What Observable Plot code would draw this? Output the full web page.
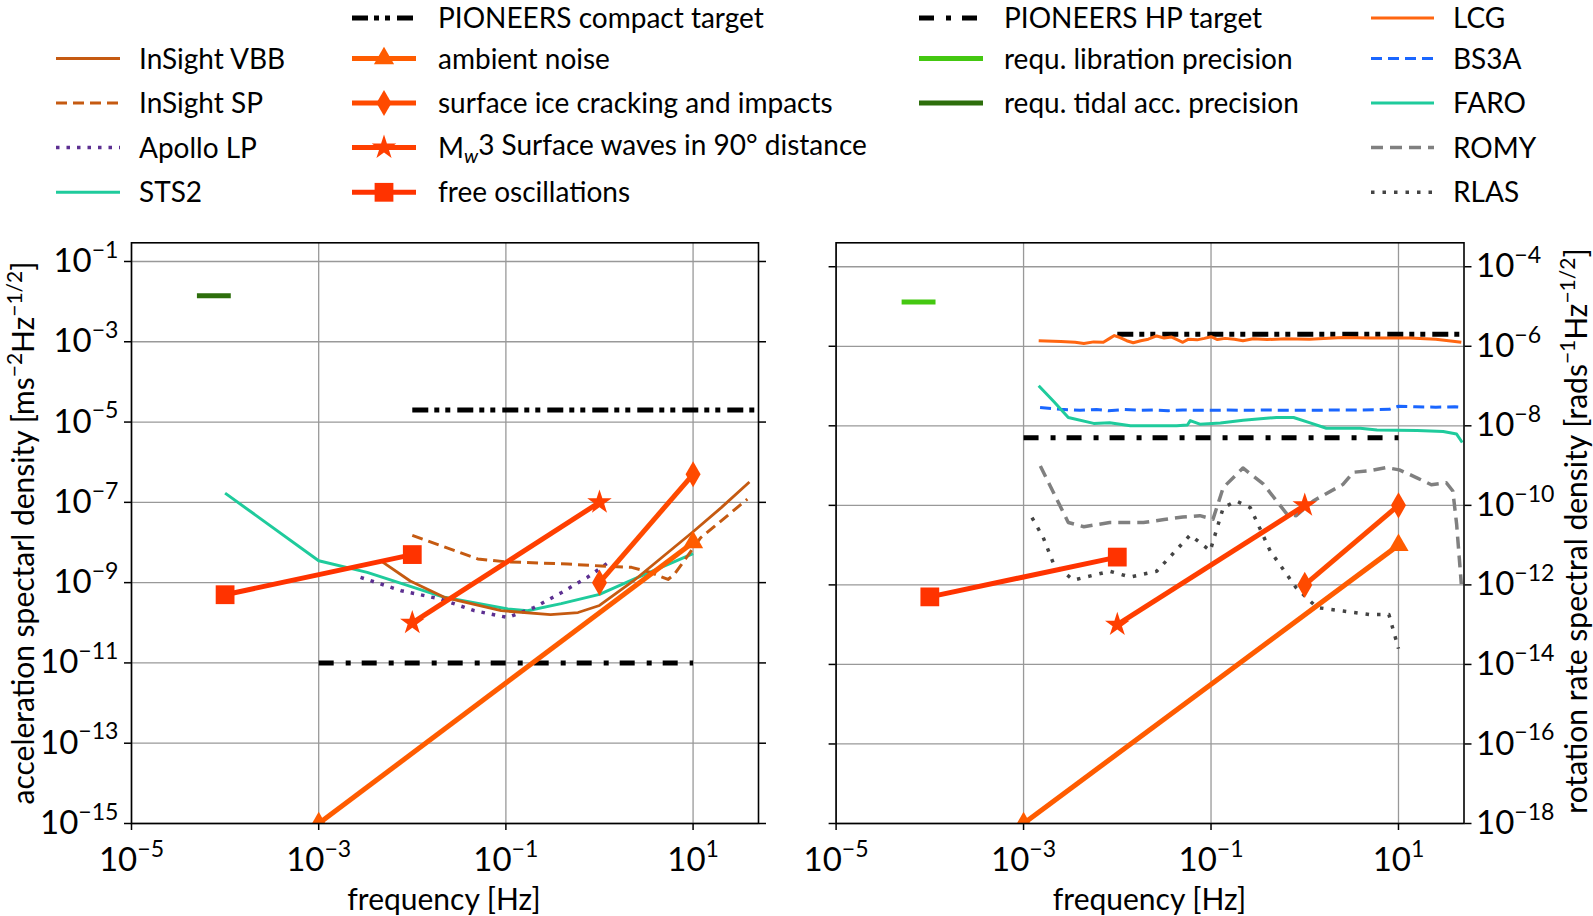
<!DOCTYPE html>
<html><head><meta charset="utf-8">
<script src="https://cdn.jsdelivr.net/npm/d3@7"></script>
<script src="https://cdn.jsdelivr.net/npm/@observablehq/plot@0.6"></script>
<style>
body{margin:0;background:#fff;}
#root{position:relative;width:1593px;height:916px;overflow:hidden;font-family:Lato,"DejaVu Sans",sans-serif;color:#000;}
.lbl{position:absolute;font-size:30px;white-space:nowrap;line-height:1;}
.rot{transform:translate(-50%,-50%) rotate(-90deg);}
.ctr{transform:translate(-50%,-50%);}
.lbl sup{font-size:70%;vertical-align:0;position:relative;top:-0.55em;}
.panel{position:absolute;top:220px;}
</style></head><body><div id="root"></div>
<script>
// ---------- tick values ----------
const xTicks = [1e-5, 1e-3, 1e-1, 1e1];
const yTicksAcc = [1e-15, 1e-13, 1e-11, 1e-9, 1e-7, 1e-5, 1e-3, 1e-1];
const yTicksRot = [1e-18, 1e-16, 1e-14, 1e-12, 1e-10, 1e-8, 1e-6, 1e-4];

// ---------- left panel: acceleration ----------
const vbbF = [4.7e-3, 9.5e-3, 2.2e-2, 8.9e-2, 0.3, 0.59, 1.0, 2.3, 10, 20, 40];
const vbbA = [3.4e-9, 1.1e-9, 4.3e-10, 2.0e-10, 1.6e-10, 1.8e-10, 2.7e-10, 1.1e-9, 1.85e-8, 7.4e-8, 3.2e-7];
const spF = [1e-2, 5e-2, 0.1, 0.46, 1.04, 2.2, 3.5, 5.4, 6.3, 12, 38];
const spA = [1.5e-8, 3.9e-9, 3.3e-9, 2.9e-9, 2.6e-9, 2.4e-9, 1.8e-9, 1.2e-9, 1.6e-9, 1.3e-8, 1.2e-7];
const apolloF = [2.8e-3, 7.6e-3, 2e-2, 4.6e-2, 0.105, 0.2, 0.39, 0.74, 1.3];
const apolloA = [1.35e-9, 6.3e-10, 3.9e-10, 2e-10, 1.35e-10, 2.4e-10, 5.6e-10, 1.35e-9, 3.4e-9];
const sts2F = [1e-4, 1e-3, 3.3e-3, 2.2e-2, 0.105, 0.17, 0.39, 1.0, 2.3, 10];
const sts2A = [1.7e-7, 3.5e-9, 1.8e-9, 4.3e-10, 2.2e-10, 2.0e-10, 3.0e-10, 5.1e-10, 1.2e-9, 5.3e-9];

const compactAccF = [1e-2, 50];   const compactAccV = [2e-5, 2e-5];
const hpAccF = [1e-3, 10];        const hpAccV = [1e-11, 1e-11];
const tidalF = [5e-5, 1.15e-4];   const tidalV = [1.4e-2, 1.4e-2];

const ambientAccF = [1e-3, 10];   const ambientAccV = [1e-15, 1e-8];
const iceAccF = [1, 10];          const iceAccV = [1e-9, 5e-7];
const mw3AccF = [1e-2, 1];        const mw3AccV = [1e-10, 1e-7];
const freeAccF = [1e-4, 1e-2];    const freeAccV = [5e-10, 5e-9];

// ---------- right panel: rotation rate ----------
const lcgF = [1.45e-3, 2.5e-3, 3.55e-3, 4.4e-3, 5.6e-3, 7.1e-3, 8.3e-3, 9.3e-3, 1.07e-2, 1.26e-2, 1.48e-2, 1.78e-2, 2.14e-2, 2.63e-2, 3.16e-2, 3.8e-2, 4.4e-2, 5.0e-2, 5.75e-2, 7.1e-2, 8.5e-2, 0.1, 0.117, 0.141, 0.178, 0.219, 0.282, 0.398, 0.63, 1.12, 2.0, 2.57, 5.0, 13.2, 25, 46.8];
const lcgV = [1.38e-6, 1.32e-6, 1.26e-6, 1.17e-6, 1.29e-6, 1.26e-6, 1.58e-6, 1.86e-6, 1.66e-6, 1.38e-6, 1.23e-6, 1.38e-6, 1.51e-6, 1.82e-6, 1.62e-6, 1.70e-6, 1.45e-6, 1.26e-6, 1.51e-6, 1.45e-6, 1.58e-6, 1.74e-6, 1.48e-6, 1.58e-6, 1.51e-6, 1.38e-6, 1.55e-6, 1.48e-6, 1.55e-6, 1.51e-6, 1.62e-6, 1.66e-6, 1.62e-6, 1.62e-6, 1.51e-6, 1.26e-6];
const bs3aF = [1.5e-3, 2.5e-3, 4e-3, 6e-3, 8e-3, 1.2e-2, 1.8e-2, 2.5e-2, 3.5e-2, 5e-2, 7e-2, 0.1, 0.15, 0.25, 0.4, 0.7, 1.2, 2, 4, 8, 10, 15, 25, 40, 48];
const bs3aV = [2.9e-8, 2.6e-8, 2.45e-8, 2.57e-8, 2.4e-8, 2.57e-8, 2.45e-8, 2.5e-8, 2.4e-8, 2.5e-8, 2.45e-8, 2.45e-8, 2.5e-8, 2.45e-8, 2.5e-8, 2.45e-8, 2.45e-8, 2.5e-8, 2.5e-8, 2.6e-8, 3.1e-8, 3.0e-8, 2.95e-8, 3.0e-8, 2.9e-8];
const faroF = [1.45e-3, 2.1e-3, 3.0e-3, 5.6e-3, 8.3e-3, 1.38e-2, 2.5e-2, 4.3e-2, 5.6e-2, 6.0e-2, 7.6e-2, 0.126, 0.22, 0.5, 0.76, 1.12, 1.7, 3.9, 5.9, 15.8, 30, 41.7, 47.9];
const faroV = [1.02e-7, 4.1e-8, 1.62e-8, 1.15e-8, 1.2e-8, 1.0e-8, 1.0e-8, 1.0e-8, 1.05e-8, 1.35e-8, 1.1e-8, 1.17e-8, 1.38e-8, 1.62e-8, 1.62e-8, 1.2e-8, 8.7e-9, 8.7e-9, 7.8e-9, 7.6e-9, 7.2e-9, 6.2e-9, 3.8e-9];
const romyF = [1.51e-3, 3.0e-3, 4.4e-3, 8.3e-3, 1.9e-2, 3.16e-2, 5.0e-2, 7.6e-2, 0.105, 0.135, 0.219, 0.363, 0.646, 0.81, 1.23, 2.57, 3.3, 4.9, 7.4, 10.2, 15.5, 22.4, 32.4, 38, 41.7, 46.8];
const romyV = [9.8e-10, 3.7e-11, 2.9e-11, 3.7e-11, 3.7e-11, 4.4e-11, 5.1e-11, 5.5e-11, 4.5e-11, 2.8e-10, 8.7e-10, 3.4e-10, 6.0e-11, 5.5e-11, 1.29e-10, 3.4e-10, 6.8e-10, 7.4e-10, 8.9e-10, 7.8e-10, 5.0e-10, 3.3e-10, 3.7e-10, 2.3e-10, 3.4e-11, 1.05e-12];
const rlasF = [1.23e-3, 1.62e-3, 2.1e-3, 3.4e-3, 8.3e-3, 1.38e-2, 2.63e-2, 6.0e-2, 9.8e-2, 0.135, 0.186, 0.263, 0.427, 0.81, 1.35, 2.57, 4.9, 7.9, 10];
const rlasV = [4.9e-11, 1.55e-11, 3.3e-12, 1.32e-12, 2.2e-12, 1.58e-12, 2.2e-12, 1.8e-11, 7.2e-12, 8.7e-11, 1.29e-10, 8.7e-11, 7.2e-12, 8.5e-13, 2.7e-13, 2.2e-13, 1.8e-13, 1.8e-13, 2.5e-14];

const compactRotF = [1e-2, 50];   const compactRotV = [2e-6, 2e-6];
const hpRotF = [1e-3, 10];        const hpRotV = [5e-9, 5e-9];
const librationF = [5e-5, 1.15e-4]; const librationV = [1.3e-5, 1.3e-5];

const ambientRotF = [1e-3, 10];   const ambientRotV = [1e-18, 1e-11];
const iceRotF = [1, 10];          const iceRotV = [1e-12, 1e-10];
const mw3RotF = [1e-2, 1];        const mw3RotV = [1e-13, 1e-10];
const freeRotF = [1e-4, 1e-2];    const freeRotV = [5e-13, 5e-12];

// ---------- styles ----------
const COL = {vbb:"#c55a11", sts:"#1fcb9c", apollo:"#5c2f91", lcg:"#ff6611", bs3a:"#1a66ff",
  romy:"#808080", rlas:"#444444", amb:"#ff5c00", ice:"#ff4a00", mw:"#ff3f00", free:"#ff3300",
  tidal:"#2d6e0c", lib:"#44c811"};
const ST = {
  vbb:{stroke:COL.vbb, strokeWidth:2.8},
  sp:{stroke:COL.vbb, strokeWidth:3, strokeDasharray:"11,6"},
  apollo:{stroke:COL.apollo, strokeWidth:3.5, strokeDasharray:"3.5,7"},
  sts:{stroke:COL.sts, strokeWidth:3},
  compact:{stroke:"#000", strokeWidth:5, strokeDasharray:"16,6,5,6,5,7"},
  hp:{stroke:"#000", strokeWidth:5, strokeDasharray:"15,12,5,11"},
  tidal:{stroke:COL.tidal, strokeWidth:5},
  lib:{stroke:COL.lib, strokeWidth:5},
  lcg:{stroke:COL.lcg, strokeWidth:3},
  bs3a:{stroke:COL.bs3a, strokeWidth:3, strokeDasharray:"11,6"},
  faro:{stroke:COL.sts, strokeWidth:3},
  romy:{stroke:COL.romy, strokeWidth:3.5, strokeDasharray:"12,7"},
  rlas:{stroke:COL.rlas, strokeWidth:3.5, strokeDasharray:"3.5,8"},
  amb:{stroke:COL.amb, strokeWidth:5, sym:"triangle", r:7.5},
  ice:{stroke:COL.ice, strokeWidth:5, sym:"diamond", r:7.9},
  mw:{stroke:COL.mw, strokeWidth:5, sym:"star", r:7.7},
  free:{stroke:COL.free, strokeWidth:5, sym:"square", r:10.6}
};

function series(F, V){ return F.map((f, i) => ({f, v: V[i]})); }
function lineMark(F, V, s){
  return Plot.line(series(F, V), {x:"f", y:"v", stroke:s.stroke, strokeWidth:s.strokeWidth,
    strokeDasharray:s.strokeDasharray, strokeLinecap:"butt", strokeLinejoin:"round", clip:true});
}
function signalMarks(F, V, s){
  return [lineMark(F, V, s),
    Plot.dot(series(F, V), {x:"f", y:"v", symbol:s.sym, r:s.r, fill:s.stroke, stroke:null, clip:true})];
}
const fmtPow = d => "10^" + String(Math.round(Math.log10(d))).replace("-", "\u2212");
const gridStyle = {stroke:"#999", strokeOpacity:1, strokeWidth:1.3};

function supify(svg){
  svg.querySelectorAll("text").forEach(t => {
    const s = t.textContent;
    if (!s.includes("^")) return;
    const [base, exp] = s.split("^");
    while (t.firstChild) t.removeChild(t.firstChild);
    t.appendChild(document.createTextNode(base));
    const sp = document.createElementNS("http://www.w3.org/2000/svg", "tspan");
    sp.setAttribute("font-size", "0.7em");
    sp.setAttribute("dy", "-0.62em");
    sp.textContent = exp;
    t.appendChild(sp);
  });
}

const commonStyle = {fontFamily:"Lato, 'DejaVu Sans', sans-serif", fontSize:"33px", background:"transparent", overflow:"visible", color:"#000"};

const leftPlot = Plot.plot({
  width:800, height:696,
  marginLeft:131, marginRight:42, marginTop:22.3, marginBottom:93,
  x:{type:"log", domain:[1e-5, 50]},
  y:{type:"log", domain:[1e-15, 0.292]},
  style:commonStyle,
  marks:[
    Plot.gridX(xTicks, gridStyle),
    Plot.gridY(yTicksAcc, gridStyle),
    lineMark(compactAccF, compactAccV, ST.compact),
    lineMark(hpAccF, hpAccV, ST.hp),
    lineMark(tidalF, tidalV, ST.tidal),
    lineMark(sts2F, sts2A, ST.sts),
    lineMark(apolloF, apolloA, ST.apollo),
    lineMark(spF, spA, ST.sp),
    lineMark(vbbF, vbbA, ST.vbb),
    ...signalMarks(ambientAccF, ambientAccV, ST.amb),
    ...signalMarks(iceAccF, iceAccV, ST.ice),
    ...signalMarks(mw3AccF, mw3AccV, ST.mw),
    ...signalMarks(freeAccF, freeAccV, ST.free),
    Plot.frame({stroke:"#000", strokeWidth:1.6}),
    Plot.axisX({ticks:xTicks, anchor:"bottom", tickSize:7, tickPadding:17, tickFormat:fmtPow, label:null, strokeWidth:1.5}),
    Plot.axisY({ticks:yTicksAcc, anchor:"left", tickSize:7, tickPadding:6, tickFormat:fmtPow, label:null, strokeWidth:1.5}),
    Plot.axisY({ticks:yTicksAcc, anchor:"right", tickSize:7, tickFormat:() => "", label:null, strokeWidth:1.5})
  ]
});

const rightPlot = Plot.plot({
  width:793, height:696,
  marginLeft:35.6, marginRight:129.5, marginTop:22.3, marginBottom:93,
  x:{type:"log", domain:[1e-5, 50]},
  y:{type:"log", domain:[1e-18, 4e-4]},
  style:commonStyle,
  marks:[
    Plot.gridX(xTicks, gridStyle),
    Plot.gridY(yTicksRot, gridStyle),
    lineMark(compactRotF, compactRotV, ST.compact),
    lineMark(hpRotF, hpRotV, ST.hp),
    lineMark(librationF, librationV, ST.lib),
    lineMark(lcgF, lcgV, ST.lcg),
    lineMark(bs3aF, bs3aV, ST.bs3a),
    lineMark(faroF, faroV, ST.faro),
    lineMark(romyF, romyV, ST.romy),
    lineMark(rlasF, rlasV, ST.rlas),
    ...signalMarks(ambientRotF, ambientRotV, ST.amb),
    ...signalMarks(iceRotF, iceRotV, ST.ice),
    ...signalMarks(mw3RotF, mw3RotV, ST.mw),
    ...signalMarks(freeRotF, freeRotV, ST.free),
    Plot.frame({stroke:"#000", strokeWidth:1.6}),
    Plot.axisX({ticks:xTicks, anchor:"bottom", tickSize:7, tickPadding:17, tickFormat:fmtPow, label:null, strokeWidth:1.5}),
    Plot.axisY({ticks:yTicksRot, anchor:"left", tickSize:7, tickFormat:() => "", label:null, strokeWidth:1.5}),
    Plot.axisY({ticks:yTicksRot, anchor:"right", tickSize:7, tickPadding:5, tickFormat:fmtPow, label:null, strokeWidth:1.5})
  ]
});

const root = document.getElementById("root");
supify(leftPlot); supify(rightPlot);
leftPlot.classList.add("panel"); leftPlot.style.left = "0px"; leftPlot.style.position = "absolute"; leftPlot.style.top = "220px";
rightPlot.classList.add("panel"); rightPlot.style.left = "800px"; rightPlot.style.position = "absolute"; rightPlot.style.top = "220px";
root.appendChild(leftPlot);
root.appendChild(rightPlot);

// ---------- axis labels ----------
function addLabel(html, x, y, cls){
  const d = document.createElement("div");
  d.className = "lbl " + cls;
  d.style.left = x + "px"; d.style.top = y + "px";
  d.innerHTML = html;
  root.appendChild(d);
}
addLabel("frequency [Hz]", 444, 898, "ctr");
addLabel("frequency [Hz]", 1149.5, 898, "ctr");
addLabel("acceleration spectarl density [ms<sup>\u22122</sup>Hz<sup>\u22121/2</sup>]", 22, 533, "rot");
addLabel("rotation rate spectral density [rads<sup>\u22121</sup>Hz<sup>\u22121/2</sup>]", 1575, 531, "rot");

// ---------- legend ----------
const legendRowsY = [18, 58.5, 103, 147.5, 192.3];
const legendCols = [
  {x0:56, x1:120, tx:139, items:[[1,"InSight VBB","vbb"],[2,"InSight SP","sp"],[3,"Apollo LP","apollo"],[4,"STS2","sts"]]},
  {x0:352, x1:416, tx:438, items:[[0,"PIONEERS compact target","compact"],[1,"ambient noise","amb"],[2,"surface ice cracking and impacts","ice"],[3,"M<tspan font-size='0.7em' font-style='italic' dy='0.3em'>w</tspan><tspan dy='-0.3em'>3 Surface waves in 90\u00b0 distance</tspan>","mw"],[4,"free oscillations","free"]]},
  {x0:919, x1:983, tx:1004, items:[[0,"PIONEERS HP target","hp"],[1,"requ. libration precision","lib"],[2,"requ. tidal acc. precision","tidal"]]},
  {x0:1371, x1:1434, tx:1453, items:[[0,"LCG","lcg"],[1,"BS3A","bs3a"],[2,"FARO","faro"],[3,"ROMY","romy"],[4,"RLAS","rlas"]]}
];
const symMap = {triangle:d3.symbolTriangle, diamond:d3.symbolDiamond, star:d3.symbolStar, square:d3.symbolSquare};
let lg = `<svg xmlns="http://www.w3.org/2000/svg" width="1593" height="220" style="position:absolute;left:0;top:0;font-family:Lato,'DejaVu Sans',sans-serif;font-size:28px">`;
for (const c of legendCols){
  for (const [row, label, key] of c.items){
    const s = ST[key], y = legendRowsY[row];
    lg += `<line x1="${c.x0}" x2="${c.x1}" y1="${y}" y2="${y}" stroke="${s.stroke}" stroke-width="${s.strokeWidth}" ${s.strokeDasharray ? `stroke-dasharray="${s.strokeDasharray}"` : ""}/>`;
    if (s.sym){
      const p = d3.symbol(symMap[s.sym], Math.PI * s.r * s.r)();
      lg += `<path d="${p}" transform="translate(${(c.x0 + c.x1) / 2},${y})" fill="${s.stroke}"/>`;
    }
    lg += `<text x="${c.tx}" y="${y}" dy="0.36em" fill="#000">${label}</text>`;
  }
}
lg += `</svg>`;
root.insertAdjacentHTML("beforeend", lg);
</script></body></html>
